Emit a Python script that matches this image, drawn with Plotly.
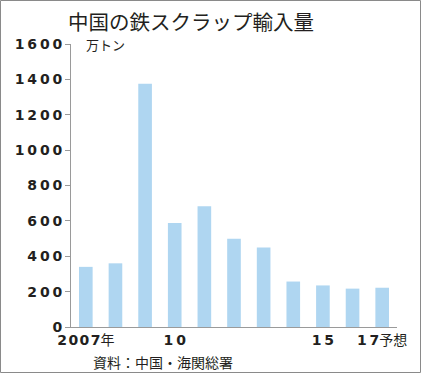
import plotly.graph_objects as go

years = ["2007", "2008", "2009", "2010", "2011", "2012", "2013", "2014", "2015", "2016", "2017"]
imports = [340, 360, 1375, 588, 682, 499, 450, 257, 235, 217, 222]
x_tick_pos = ["2007", "2010", "2015", "2017"]
x_tick_nums = ["2007", "10", "15", "17"]
x_tick_suffix = ["年", "", "", "予想"]
y_tick_vals = [0, 200, 400, 600, 800, 1000, 1200, 1400, 1600]
y_tick_text = ["0", "200", "400", "600", "800", "1000", "1200", "1400", "1600"]

W, H = 421, 373
L, R, T, B = 71, 24, 44, 46
pw, ph = W - L - R, H - T - B

def px(x):
    return (x - L) / pw

def py(y):
    return (H - B - y) / ph

def spaced(s, sep):
    return sep.join(s)

txt = "#231f20"
jp = "Noto Sans CJK JP, sans-serif"
num = "DejaVu Sans, Noto Sans CJK JP, sans-serif"

x_labels = []
for n, s in zip(x_tick_nums, x_tick_suffix):
    sep = "\u200a" if len(n) > 2 else "\u2009"
    lab = "<b>" + spaced(n, sep) + "</b>"
    if s:
        lab += "<span style='font-family:Noto Sans CJK JP;font-size:14px'>" + s + "</span>"
    x_labels.append(lab)

fig = go.Figure(go.Bar(
    x=years, y=imports,
    marker=dict(color="#afd6f1", line=dict(width=0)),
    width=0.46,
))

fig.update_layout(
    width=W, height=H,
    margin=dict(l=L, r=R, t=T, b=B),
    paper_bgcolor="white", plot_bgcolor="white",
    showlegend=False,
    xaxis=dict(
        type="category", range=[-0.5, 10.5],
        tickmode="array", tickvals=x_tick_pos, ticktext=x_labels,
        ticks="", showgrid=False, zeroline=False,
        showline=True, linecolor="#9a9a9a", linewidth=1,
        tickfont=dict(family=num, size=14, color=txt),
    ),
    yaxis=dict(
        range=[0, 1600],
        tickmode="array", tickvals=y_tick_vals,
        ticktext=[spaced(t, "\u2009") for t in y_tick_text],
        ticks="outside", ticklen=5, tickcolor="#9a9a9a", tickwidth=1,
        showgrid=False, zeroline=False,
        showline=True, linecolor="#9a9a9a", linewidth=1,
        tickfont=dict(family=num, size=14, color=txt, weight="bold"),
    ),
    annotations=[
        dict(text="中国の鉄スクラップ輸入量", xref="paper", yref="paper",
             x=px(190.5), y=py(21), xanchor="center", yanchor="middle",
             showarrow=False, font=dict(family=jp, size=20.5, color=txt)),
        dict(text="万トン", xref="paper", yref="paper",
             x=px(84), y=py(44.5), xanchor="left", yanchor="middle",
             showarrow=False, font=dict(family=jp, size=13, color=txt)),
        dict(text="資料：中国・海関総署", xref="paper", yref="paper",
             x=px(91), y=py(361.5), xanchor="left", yanchor="middle",
             showarrow=False, font=dict(family=jp, size=14, color=txt)),
    ],
    shapes=[
        dict(type="rect", xref="paper", yref="paper",
             x0=px(0.5), x1=px(420.5), y0=py(372.5), y1=py(0.5),
             line=dict(color="#8a8a8a", width=1), fillcolor="rgba(0,0,0,0)"),
    ],
)

fig.write_html("out.html", config={"displayModeBar": False},
               post_script="document.body.style.margin='0';document.body.style.overflow='hidden';")
